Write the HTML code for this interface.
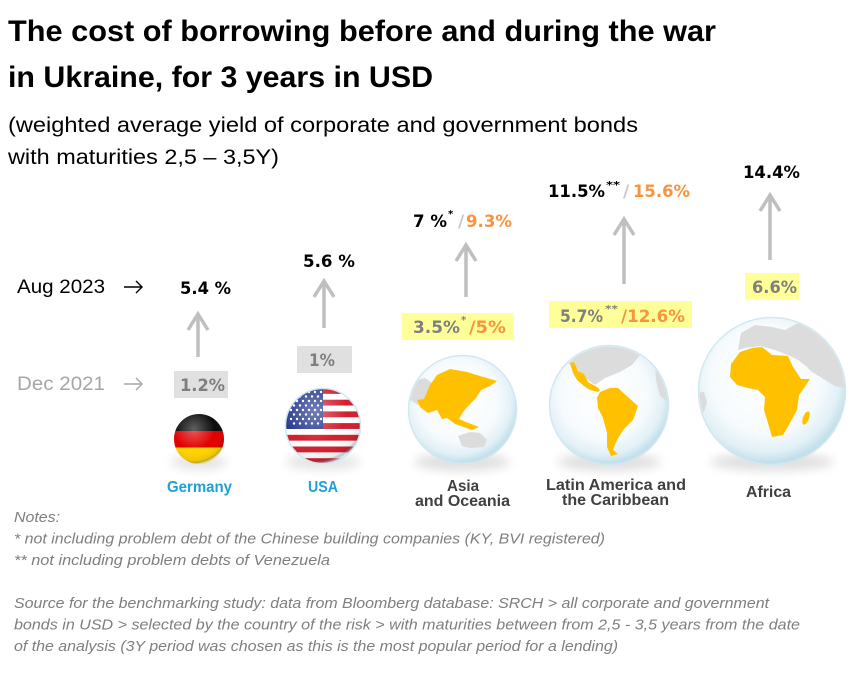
<!DOCTYPE html>
<html><head><meta charset="utf-8"><style>
html,body{margin:0;padding:0;background:#fff;}
svg{display:block;}
.t{font-family:"Liberation Sans",sans-serif;font-weight:bold;fill:#000;}
.s{font-family:"Liberation Sans",sans-serif;fill:#000;}
.v{font-family:"DejaVu Sans","Liberation Sans",sans-serif;font-weight:bold;}
.l{font-family:"Liberation Sans",sans-serif;font-weight:bold;fill:#404040;font-size:16px;}
.n{font-family:"Liberation Sans",sans-serif;font-style:italic;fill:#7f7f7f;font-size:15px;}
</style></head><body>
<svg width="858" height="679" viewBox="0 0 858 679" xmlns="http://www.w3.org/2000/svg">
<defs>
<radialGradient id="gl" cx="46%" cy="42%" r="56%">
<stop offset="0" stop-color="#ffffff"/>
<stop offset="0.65" stop-color="#f7fbfd"/>
<stop offset="0.88" stop-color="#e2f0f6"/>
<stop offset="1" stop-color="#c4e0ec"/>
</radialGradient>
<radialGradient id="gloss" cx="40%" cy="30%" r="70%">
<stop offset="0" stop-color="#fff" stop-opacity="0.35"/>
<stop offset="0.6" stop-color="#fff" stop-opacity="0"/>
<stop offset="0.92" stop-color="#000" stop-opacity="0.08"/>
<stop offset="1" stop-color="#cfe8f3" stop-opacity="0.7"/>
</radialGradient>
<filter id="blur" x="-50%" y="-50%" width="200%" height="200%"><feGaussianBlur stdDeviation="5"/></filter>
<clipPath id="cA"><circle cx="462.5" cy="409.5" r="53"/></clipPath>
<clipPath id="cL"><circle cx="609" cy="405" r="58.5"/></clipPath>
<clipPath id="cF"><circle cx="772" cy="391" r="72.5"/></clipPath>
<clipPath id="cG"><circle cx="199" cy="439" r="25"/></clipPath>
<clipPath id="cU"><circle cx="323" cy="426" r="38"/></clipPath>
</defs>

<!-- Title -->
<text class="t" x="8" y="41" font-size="30" textLength="708" lengthAdjust="spacingAndGlyphs">The cost of borrowing before and during the war</text>
<text class="t" x="8" y="87" font-size="30" textLength="425" lengthAdjust="spacingAndGlyphs">in Ukraine, for 3 years in USD</text>
<text class="s" x="8" y="132" font-size="21" textLength="630" lengthAdjust="spacingAndGlyphs">(weighted average yield of corporate and government bonds</text>
<text class="s" x="8" y="164" font-size="21" textLength="271" lengthAdjust="spacingAndGlyphs">with maturities 2,5 – 3,5Y)</text>

<!-- row labels -->
<text class="s" x="17" y="293" font-size="19" textLength="88" lengthAdjust="spacingAndGlyphs">Aug 2023</text>
<g stroke="#000" stroke-width="1.4" fill="none">
<line x1="124" y1="287" x2="142" y2="287"/><polyline points="136,281 142,287 136,293"/>
</g>
<text class="s" x="17" y="390" font-size="19" style="fill:#a6a6a6" textLength="88" lengthAdjust="spacingAndGlyphs">Dec 2021</text>
<g stroke="#a6a6a6" stroke-width="1.4" fill="none">
<line x1="124" y1="384" x2="142" y2="384"/><polyline points="136,378 142,384 136,390"/>
</g>

<!-- arrows -->
<g stroke="#bfbfbf" stroke-width="3.5" fill="none" stroke-linecap="butt">
<line x1="198" y1="314" x2="198" y2="357"/><polyline points="188,330 198,314 208,330"/>
<line x1="324" y1="281" x2="324" y2="328"/><polyline points="314,297 324,281 334,297"/>
<line x1="466" y1="245" x2="466" y2="297"/><polyline points="456,261 466,245 476,261"/>
<line x1="624" y1="219" x2="624" y2="284"/><polyline points="614,235 624,219 634,235"/>
<line x1="770" y1="195" x2="770" y2="260"/><polyline points="760,211 770,195 780,211"/>
</g>

<!-- top values -->
<text class="v" x="180" y="294" font-size="17" textLength="51" lengthAdjust="spacingAndGlyphs">5.4 %</text>
<text class="v" x="303" y="267" font-size="17" textLength="52" lengthAdjust="spacingAndGlyphs">5.6 %</text>
<text class="v" x="413" y="227" font-size="17" textLength="34" lengthAdjust="spacingAndGlyphs">7 %</text>
<text class="v" x="448" y="217" font-size="10">*</text>
<text class="v" x="458" y="227" font-size="17" fill="#c8c8c8">/</text>
<text class="v" x="466" y="227" font-size="17" fill="#f7943c" textLength="46" lengthAdjust="spacingAndGlyphs">9.3%</text>
<text class="v" x="548" y="197" font-size="17" textLength="57" lengthAdjust="spacingAndGlyphs">11.5%</text>
<text class="v" x="606" y="188" font-size="10" textLength="14" lengthAdjust="spacingAndGlyphs">**</text>
<text class="v" x="623" y="197" font-size="17" fill="#c8c8c8">/</text>
<text class="v" x="633" y="197" font-size="17" fill="#f7943c" textLength="57" lengthAdjust="spacingAndGlyphs">15.6%</text>
<text class="v" x="743" y="178" font-size="17" textLength="57" lengthAdjust="spacingAndGlyphs">14.4%</text>

<!-- bottom value boxes -->
<rect x="174" y="371" width="54" height="27" fill="#e0e0e0"/>
<text class="v" x="180" y="391" font-size="17" fill="#7f7f7f" textLength="45" lengthAdjust="spacingAndGlyphs">1.2%</text>
<rect x="297" y="346" width="55" height="27" fill="#e0e0e0"/>
<text class="v" x="309" y="366" font-size="17" fill="#7f7f7f" textLength="26" lengthAdjust="spacingAndGlyphs">1%</text>
<rect x="402" y="313" width="111" height="27" fill="#ffff99"/>
<text class="v" x="413" y="333" font-size="17" fill="#7f7f7f" textLength="47" lengthAdjust="spacingAndGlyphs">3.5%</text>
<text class="v" x="461" y="323" font-size="10" fill="#7f7f7f">*</text>
<text class="v" x="469" y="333" font-size="17" fill="#f7943c" textLength="37" lengthAdjust="spacingAndGlyphs">/5%</text>
<rect x="549" y="301" width="143" height="27" fill="#ffff99"/>
<text class="v" x="560" y="322" font-size="17" fill="#7f7f7f" textLength="43" lengthAdjust="spacingAndGlyphs">5.7%</text>
<text class="v" x="605" y="312" font-size="10" fill="#7f7f7f" textLength="13" lengthAdjust="spacingAndGlyphs">**</text>
<text class="v" x="621" y="322" font-size="17" fill="#f7943c" textLength="64" lengthAdjust="spacingAndGlyphs">/12.6%</text>
<rect x="745" y="273" width="54" height="26" fill="#ffff99"/>
<text class="v" x="752" y="293" font-size="17" fill="#7f7f7f" textLength="45" lengthAdjust="spacingAndGlyphs">6.6%</text>

<!-- Germany flag -->
<ellipse cx="199" cy="462" rx="28" ry="8" fill="#000" opacity="0.1" filter="url(#blur)"/>
<g clip-path="url(#cG)">
<rect x="174" y="414" width="50" height="17" fill="#0a0a0a"/>
<rect x="174" y="431" width="50" height="16.5" fill="#e00000"/>
<rect x="174" y="447.5" width="50" height="17" fill="#ffd200"/>
<circle cx="199" cy="439" r="25" fill="url(#gloss)"/>
</g>

<!-- USA flag -->
<ellipse cx="323" cy="462" rx="38" ry="8" fill="#000" opacity="0.1" filter="url(#blur)"/>
<g clip-path="url(#cU)">
<rect x="285" y="388" width="76" height="76" fill="#fff"/>
<g fill="#d21f2f">
<rect x="285" y="388" width="76" height="5.85"/>
<rect x="285" y="399.7" width="76" height="5.85"/>
<rect x="285" y="411.4" width="76" height="5.85"/>
<rect x="285" y="423.1" width="76" height="5.85"/>
<rect x="285" y="434.8" width="76" height="5.85"/>
<rect x="285" y="446.5" width="76" height="5.85"/>
<rect x="285" y="458.2" width="76" height="5.85"/>
</g>
<rect x="285" y="388" width="38" height="41" fill="#2b3c8f"/>
<g fill="#fff">
<circle cx="291" cy="392" r="1.2"/><circle cx="297" cy="392" r="1.2"/><circle cx="303" cy="392" r="1.2"/><circle cx="309" cy="392" r="1.2"/><circle cx="315" cy="392" r="1.2"/><circle cx="321" cy="392" r="1.2"/>
<circle cx="294" cy="396.5" r="1.2"/><circle cx="300" cy="396.5" r="1.2"/><circle cx="306" cy="396.5" r="1.2"/><circle cx="312" cy="396.5" r="1.2"/><circle cx="318" cy="396.5" r="1.2"/>
<circle cx="291" cy="401" r="1.2"/><circle cx="297" cy="401" r="1.2"/><circle cx="303" cy="401" r="1.2"/><circle cx="309" cy="401" r="1.2"/><circle cx="315" cy="401" r="1.2"/><circle cx="321" cy="401" r="1.2"/>
<circle cx="294" cy="405.5" r="1.2"/><circle cx="300" cy="405.5" r="1.2"/><circle cx="306" cy="405.5" r="1.2"/><circle cx="312" cy="405.5" r="1.2"/><circle cx="318" cy="405.5" r="1.2"/>
<circle cx="291" cy="410" r="1.2"/><circle cx="297" cy="410" r="1.2"/><circle cx="303" cy="410" r="1.2"/><circle cx="309" cy="410" r="1.2"/><circle cx="315" cy="410" r="1.2"/><circle cx="321" cy="410" r="1.2"/>
<circle cx="294" cy="414.5" r="1.2"/><circle cx="300" cy="414.5" r="1.2"/><circle cx="306" cy="414.5" r="1.2"/><circle cx="312" cy="414.5" r="1.2"/><circle cx="318" cy="414.5" r="1.2"/>
<circle cx="291" cy="419" r="1.2"/><circle cx="297" cy="419" r="1.2"/><circle cx="303" cy="419" r="1.2"/><circle cx="309" cy="419" r="1.2"/><circle cx="315" cy="419" r="1.2"/><circle cx="321" cy="419" r="1.2"/>
<circle cx="294" cy="423.5" r="1.2"/><circle cx="300" cy="423.5" r="1.2"/><circle cx="306" cy="423.5" r="1.2"/><circle cx="312" cy="423.5" r="1.2"/><circle cx="318" cy="423.5" r="1.2"/>
</g>
<circle cx="323" cy="426" r="38" fill="url(#gloss)"/>
</g>
<circle cx="323" cy="426" r="37.5" fill="none" stroke="#cfe8f3" stroke-width="1.5"/>

<!-- Asia globe -->
<ellipse cx="462" cy="462" rx="48" ry="9" fill="#000" opacity="0.12" filter="url(#blur)"/>
<circle cx="462.5" cy="409.5" r="54.5" fill="url(#gl)"/>
<g clip-path="url(#cA)">
<polygon points="410,382 425,378 432,383 430,395 423,402 418,405 410,400" fill="#dcdcdc"/>
<polygon points="458,436 470,432 480,433 487,440 484,447 470,448 462,446" fill="#dcdcdc"/>
<polygon points="430,385 437,375 450,369 467,372 480,376 497,381 490,386 481,390 476,398 469,405 463,412 459,419 466,422 479,427 472,430 455,424 447,418 442,419 437,410 428,413 420,407 417,400 424,399" fill="#ffc000"/>
</g>
<circle cx="462.5" cy="409.5" r="54" fill="none" stroke="#d2e8f1" stroke-width="1.5"/>

<!-- Latin globe -->
<ellipse cx="609" cy="462" rx="52" ry="9" fill="#000" opacity="0.12" filter="url(#blur)"/>
<circle cx="609" cy="405" r="60" fill="url(#gl)"/>
<g clip-path="url(#cL)">
<polygon points="560,355 575,348 595,345 615,346 630,347 640,355 632,365 620,372 605,378 595,385 585,378 578,370 570,365" fill="#dcdcdc"/>
<polygon points="655,365 664,370 670,390 668,402 660,396 656,380" fill="#dcdcdc"/>
<polygon points="570,363 574,362 578,371 584,374 588,382 597,387 600,390 598,392 590,390 584,386 577,380 573,373" fill="#ffc000"/>
<polygon points="600,392 610,388 618,388 630,399 638,406 633,420 623,430 617,440 613,450 618,454 611,456 607,447 607,433 603,418 598,408 597,398" fill="#ffc000"/>
</g>
<circle cx="609" cy="405" r="59.5" fill="none" stroke="#d2e8f1" stroke-width="1.5"/>

<!-- Africa globe -->
<ellipse cx="772" cy="462" rx="62" ry="9" fill="#000" opacity="0.12" filter="url(#blur)"/>
<circle cx="772" cy="391" r="74" fill="url(#gl)"/>
<g clip-path="url(#cF)">
<polygon points="738,350 741,333 755,325 772,327 785,330 800,322 818,324 833,333 843,350 847,372 845,388 835,386 822,378 812,372 806,366 798,360 790,356 775,350 760,346 745,348" fill="#dcdcdc"/>
<polygon points="696,393 704,392 707,402 704,412 699,410" fill="#dcdcdc"/>
<polygon points="740,352 752,348 762,347 772,355 788,356 793,367 801,379 810,379 804,388 799,395 797,410 790,423 783,435 772,437 768,423 764,410 765,397 758,390 748,388 737,385 730,377 731,364" fill="#ffc000"/>
<ellipse cx="806" cy="418" rx="3" ry="7" transform="rotate(20 806 418)" fill="#ffc000"/>
</g>
<circle cx="772" cy="391" r="73.5" fill="none" stroke="#d2e8f1" stroke-width="1.5"/>

<!-- labels -->
<text class="l" x="167" y="492" style="fill:#1ea0dc" textLength="65" lengthAdjust="spacingAndGlyphs">Germany</text>
<text class="l" x="308" y="492" style="fill:#1ea0dc" textLength="30" lengthAdjust="spacingAndGlyphs">USA</text>
<text class="l" x="447" y="491" textLength="32" lengthAdjust="spacingAndGlyphs">Asia</text>
<text class="l" x="415" y="506" textLength="95" lengthAdjust="spacingAndGlyphs">and Oceania</text>
<text class="l" x="546" y="490" textLength="140" lengthAdjust="spacingAndGlyphs">Latin America and</text>
<text class="l" x="562" y="505" textLength="107" lengthAdjust="spacingAndGlyphs">the Caribbean</text>
<text class="l" x="746" y="497" textLength="45" lengthAdjust="spacingAndGlyphs">Africa</text>

<!-- notes -->
<text class="n" x="14" y="522" textLength="46" lengthAdjust="spacingAndGlyphs">Notes:</text>
<text class="n" x="14" y="543.5" textLength="591" lengthAdjust="spacingAndGlyphs">* not including problem debt of the Chinese building companies (KY, BVI registered)</text>
<text class="n" x="14" y="565" textLength="316" lengthAdjust="spacingAndGlyphs">** not including problem debts of Venezuela</text>
<text class="n" x="14" y="608" textLength="755" lengthAdjust="spacingAndGlyphs">Source for the benchmarking study: data from Bloomberg database: SRCH &gt; all corporate and government</text>
<text class="n" x="14" y="629.5" textLength="786" lengthAdjust="spacingAndGlyphs">bonds in USD &gt; selected by the country of the risk &gt; with maturities between from 2,5 - 3,5 years from the date</text>
<text class="n" x="14" y="651" textLength="604" lengthAdjust="spacingAndGlyphs">of the analysis (3Y period was chosen as this is the most popular period for a lending)</text>
</svg>
</body></html>
